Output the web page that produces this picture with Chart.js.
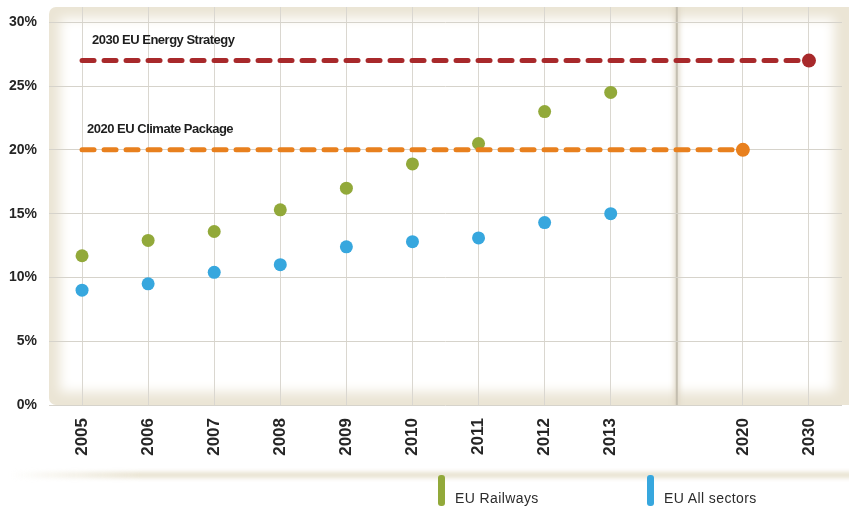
<!DOCTYPE html>
<html>
<head>
<meta charset="utf-8">
<script src="https://cdn.jsdelivr.net/npm/chart.js@4/dist/chart.umd.min.js"></script>
<style>
  html, body { margin: 0; padding: 0; background: #ffffff; }
  #wrap { position: relative; width: 849px; height: 509px; overflow: hidden; }
  #c { position: absolute; left: 0; top: 0; }
  .lg { position: absolute; top: 475px; height: 32px; font-family: "Liberation Sans", Arial, sans-serif; font-size: 14px; letter-spacing: 0.4px; color: #2b2b2b; }
  .lg .bar { position: absolute; left: 0; top: 0; width: 7px; height: 31px; border-radius: 3px; }
  .lg .txt { position: absolute; left: 17px; top: 15px; white-space: nowrap; }
</style>
</head>
<body>
<div id="wrap">
  <canvas id="c" width="849" height="509"></canvas>
  <div id="legend"></div>
</div>
<script>
// ---- data ----
const categories = ['2005', '2006', '2007', '2008', '2009', '2010', '2011', '2012', '2013', '', '2020', '2030'];
const railways   = [11.7, 12.9, 13.6, 15.3, 17.0, 18.9, 20.5, 23.0, 24.5, null, null, null];
const allSectors = [9.0, 9.5, 10.4, 11.0, 12.4, 12.8, 13.1, 14.3, 15.0, null, null, null];
const targetNames = ['2030 EU Energy Strategy', '2020 EU Climate Package'];
const targetValues = [27, 20];
const targetYears = ['2030', '2020'];
const seriesNames = ['EU Railways', 'EU All sectors'];
const yTicks = [0, 5, 10, 15, 20, 25, 30];

const GREEN = '#92a93a', BLUE = '#37a7de', RED = '#a8292b', ORANGE = '#e8801e';
const targetColors = [RED, ORANGE];

function targetSeries(value, endYear) {
  const end = categories.indexOf(endYear);
  return categories.map((c, i) => (i <= end ? value : null));
}

// legend (HTML)
const legendPos = [438, 647];
const legendColors = [GREEN, BLUE];
const lg = document.getElementById('legend');
seriesNames.forEach((n, i) => {
  const d = document.createElement('div');
  d.className = 'lg';
  d.style.left = legendPos[i] + 'px';
  d.innerHTML = '<div class="bar" style="background:' + legendColors[i] + '"></div><div class="txt">' + n + '</div>';
  lg.appendChild(d);
});

const bgPlugin = {
  id: 'bg',
  beforeDraw(chart) {
    const { ctx, chartArea: a } = chart;
    const W = chart.width;
    ctx.save();
    // beige frame
    ctx.fillStyle = '#ebe5d5';
    ctx.beginPath();
    ctx.roundRect(a.left, a.top, W - a.left + 10, a.bottom - a.top, 7);
    ctx.fill();
    ctx.beginPath();
    ctx.rect(a.left, a.top, W - a.left, a.bottom - a.top);
    ctx.clip();
    ctx.filter = 'blur(6px)';
    ctx.fillStyle = '#ffffff';
    ctx.fillRect(a.left + 11, a.top + 11, W - a.left - 26, a.bottom - a.top - 24);
    ctx.filter = 'none';
    // separator band at the empty slot
    const xs = chart.scales.x.getPixelForValue(categories.indexOf(''));
    ctx.filter = 'blur(2.5px)';
    ctx.fillStyle = 'rgba(222,214,196,0.85)';
    ctx.fillRect(xs - 3, a.top - 10, 6, a.bottom - a.top + 20);
    ctx.filter = 'none';
    ctx.fillStyle = 'rgba(192,186,172,0.9)';
    ctx.fillRect(xs - 1, a.top, 2, a.bottom - a.top);
    ctx.restore();

    // bottom shadow band
    ctx.save();
    const g = ctx.createLinearGradient(10, 0, 140, 0);
    g.addColorStop(0, 'rgba(232,226,207,0)');
    g.addColorStop(1, 'rgba(232,226,207,1)');
    ctx.filter = 'blur(2px)';
    ctx.fillStyle = g;
    ctx.fillRect(10, 472, W, 6);
    ctx.restore();
  }
};

const labelPlugin = {
  id: 'targetLabels',
  afterDatasetsDraw(chart) {
    const { ctx } = chart;
    const xs = chart.scales.x, ys = chart.scales.y;
    const offs = [10, 5];
    ctx.save();
    ctx.font = 'bold 13px "Liberation Sans", Arial, sans-serif';
    ctx.letterSpacing = '-0.5px';
    ctx.fillStyle = '#1e1e1e';
    ctx.textAlign = 'left';
    ctx.textBaseline = 'middle';
    targetNames.forEach((n, i) => {
      const x = xs.getPixelForValue(0) + offs[i];
      const y = ys.getPixelForValue(targetValues[i]) - 20;
      ctx.fillText(n, x, y);
    });
    ctx.restore();
  }
};

const datasets = [
  ...targetNames.map((n, i) => {
    const data = targetSeries(targetValues[i], targetYears[i]);
    const last = categories.indexOf(targetYears[i]);
    return {
      label: n,
      data,
      order: 0,
      borderColor: targetColors[i],
      backgroundColor: targetColors[i],
      borderWidth: 5,
      borderDash: [12, 10],
      borderCapStyle: 'round',
      spanGaps: true,
      pointRadius: c => (c.dataIndex === last ? 7 : 0),
      pointBorderWidth: 0,
      pointBackgroundColor: targetColors[i]
    };
  }),
  {
    label: seriesNames[0], data: railways, showLine: false, order: 1,
    pointRadius: 6.5, pointBorderWidth: 0, pointBackgroundColor: GREEN, backgroundColor: GREEN, borderColor: GREEN
  },
  {
    label: seriesNames[1], data: allSectors, showLine: false, order: 1,
    pointRadius: 6.5, pointBorderWidth: 0, pointBackgroundColor: BLUE, backgroundColor: BLUE, borderColor: BLUE
  }
];

new Chart(document.getElementById('c'), {
  type: 'line',
  data: { labels: categories, datasets },
  plugins: [bgPlugin, labelPlugin],
  options: {
    responsive: false,
    animation: false,
    events: [],
    layout: { padding: { top: 5, right: 5, left: 0, bottom: 0 } },
    plugins: { legend: { display: false }, tooltip: { enabled: false } },
    scales: {
      x: {
        type: 'category',
        offset: true,
        afterFit: s => { s.height = 104; s.paddingLeft = 0; s.paddingRight = 0; },
        border: { display: false },
        grid: {
          offset: false,
          drawTicks: false,
          color: '#dad7d0',
          lineWidth: c => (c.index === categories.indexOf('') ? 0 : 1)
        },
        ticks: {
          padding: 13,
          minRotation: 90,
          maxRotation: 90,
          autoSkip: false,
          color: '#262626',
          font: { family: '"Liberation Sans", Arial, sans-serif', size: 17, weight: 'bold' }
        }
      },
      y: {
        min: 0,
        max: 31.2,
        afterFit: s => { s.width = 49; s.paddingTop = 0; s.paddingBottom = 0; },
        afterBuildTicks: s => { s.ticks = yTicks.map(v => ({ value: v })); },
        border: { display: false },
        grid: { drawTicks: false, color: '#d6d3cb' },
        ticks: {
          padding: 12,
          color: '#262626',
          font: { family: '"Liberation Sans", Arial, sans-serif', size: 14, weight: 'bold' },
          callback: v => v + '%'
        }
      }
    }
  }
});
</script>
</body>
</html>
